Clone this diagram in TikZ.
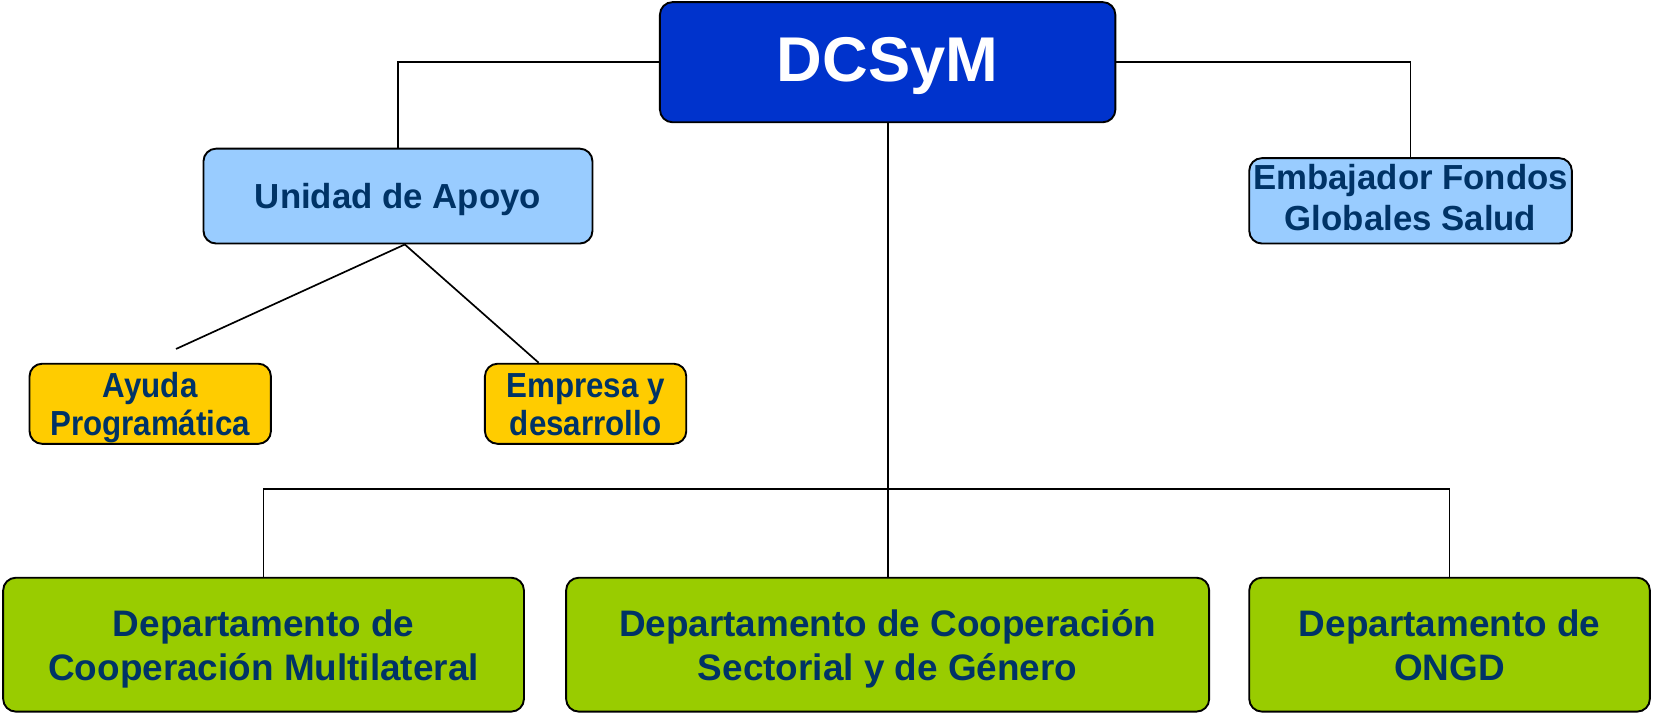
\documentclass[tikz,border=0pt]{standalone}
\usepackage{graphicx}
\usepackage{fontspec}
\setmainfont{Liberation Sans}
\definecolor{navy}{HTML}{003366}
\definecolor{dblue}{HTML}{0033CC}
\definecolor{lblue}{HTML}{99CCFF}
\definecolor{gold}{HTML}{FFCC00}
\definecolor{lime}{HTML}{99CC00}
% lower content by #1 inside a centred node, keeping its total size
\newcommand{\lowtxt}[2][4pt]{\raisebox{0pt}[\dimexpr\height+#1\relax][\dimexpr\depth-#1\relax]{\begin{tabular}{@{}c@{}}#2\end{tabular}}}
\begin{document}
\begin{tikzpicture}[x=1pt,y=-1pt,
  box/.style={draw=black, line width=1.8pt, rounded corners=12pt, inner sep=0pt, align=center, text=navy},
  conn/.style={line width=1.6pt},
  bigtxt/.style={font=\fontsize{35}{42}\selectfont\bfseries},
  midtxt/.style={font=\fontsize{33}{39}\selectfont\bfseries},
  smalltxt/.style={font=\fontsize{33}{36}\selectfont\bfseries}]
\useasboundingbox (0,0) rectangle (1568,675.4);
\node[box, fill=dblue, text=white, minimum width=432pt, minimum height=114pt,
  font=\fontsize{60}{72}\selectfont\bfseries] (top) at (842,59) {\lowtxt[4pt]{DCSyM}};
\node[box, fill=lblue, midtxt, minimum width=369pt, minimum height=90pt] (unidad) at (377.5,186) {\lowtxt[4pt]{Unidad de Apoyo}};
\node[box, fill=lblue, midtxt, minimum width=306pt, minimum height=81pt] (emb) at (1338,190.5) {\lowtxt[1pt]{Embajador Fondos\\Globales Salud}};
\node[box, fill=gold, smalltxt, minimum width=229pt, minimum height=76pt] (ayuda) at (142.5,383) {\lowtxt[5pt]{\scalebox{0.9}[1]{Ayuda}\\\scalebox{0.9}[1]{Programática}}};
\node[box, fill=gold, smalltxt, minimum width=191pt, minimum height=76pt] (empresa) at (555.5,383) {\lowtxt[5pt]{\scalebox{0.9}[1]{Empresa y}\\\scalebox{0.9}[1]{desarrollo}}};
\node[box, fill=lime, bigtxt, minimum width=494pt, minimum height=127pt] (g1) at (250,611.5) {\lowtxt[5pt]{Departamento de\\Cooperación Multilateral}};
\node[box, fill=lime, bigtxt, minimum width=610pt, minimum height=127pt] (g2) at (842,611.5) {\lowtxt[5pt]{Departamento de Cooperación\\Sectorial y de Género}};
\node[box, fill=lime, bigtxt, minimum width=380pt, minimum height=127pt] (g3) at (1375,611.5) {\lowtxt[5pt]{Departamento de\\ONGD}};
\coordinate (bus) at (842,464);
\coordinate (ayend) at (167,331);
\draw[conn] (top.west) -| (unidad.north);
\draw[conn] (top.east) -| (emb.north);
\draw[conn] (top.south) -- (g2.north);
\draw[conn] (g1.north) |- (bus) -| (g3.north);
\draw[conn] ([xshift=6.5pt]unidad.south) -- (ayend);
\draw[conn] ([xshift=6.5pt]unidad.south) -- ([xshift=-44.5pt]empresa.north);
\end{tikzpicture}
\end{document}
